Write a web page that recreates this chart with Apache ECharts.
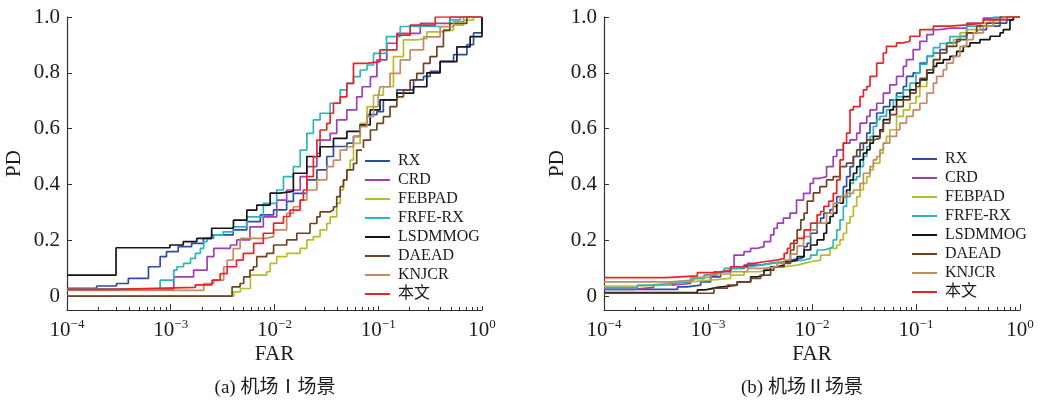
<!DOCTYPE html>
<html>
<head>
<meta charset="utf-8">
<script src="https://cdn.jsdelivr.net/npm/echarts@6/dist/echarts.min.js"></script>
<style>
  html, body { margin: 0; padding: 0; background: #fff; }
  #chart { width: 1042px; height: 407px; }
</style>
</head>
<body>
<div id="chart"></div>
<script>
// legend names and colours
var names = ['RX', 'CRD', 'FEBPAD', 'FRFE-RX', 'LSDMMOG', 'DAEAD', 'KNJCR', '本文'];
var colors = ['#2f4ea3', '#9e40b2', '#b6bd2b', '#2db6ba', '#151515', '#6e4424', '#c28b63', '#e8242a'];

// tick labels
var yTicks = [0, 0.2, 0.4, 0.6, 0.8, 1.0];
var minorSteps = [2, 3, 4, 5, 6, 7, 8, 9];
var decades = [-4, -3, -2, -1];

// (a) scene I : [FAR, PD]
var a_RX = [[1e-4,0.028],[1.93e-4,0.036],[3.0e-4,0.045],[3.9e-4,0.063],[6.1e-4,0.105],[7.9e-4,0.141],[9.1e-4,0.159],[1.18e-3,0.177],[1.59e-3,0.189],[2.06e-3,0.207],[2.48e-3,0.219],[4.0e-3,0.237],[5.4e-3,0.267],[7.3e-3,0.291],[9.8e-3,0.309],[1.31e-2,0.339],[1.52e-2,0.368],[2.05e-2,0.416],[2.56e-2,0.452],[3.19e-2,0.5],[3.7e-2,0.536],[4.98e-2,0.548],[5.77e-2,0.572],[6.7e-2,0.614],[7.8e-2,0.65],[9.7e-2,0.661],[0.112,0.703],[0.151,0.739],[0.219,0.775],[0.273,0.787],[0.317,0.805],[0.395,0.841],[0.532,0.865],[0.715,0.901],[0.829,0.943],[1,1]];
var a_CRD = [[1e-4,0.025],[1.07e-3,0.069],[1.66e-3,0.093],[2.24e-3,0.141],[2.6e-3,0.171],[3.76e-3,0.183],[4.33e-3,0.201],[5.8e-3,0.248],[7.8e-3,0.284],[1.05e-2,0.344],[1.31e-2,0.38],[1.77e-2,0.428],[2.05e-2,0.464],[2.56e-2,0.511],[2.75e-2,0.559],[3.44e-2,0.583],[3.98e-2,0.631],[4.98e-2,0.667],[6.2e-2,0.714],[7.0e-2,0.75],[8.4e-2,0.786],[9.7e-2,0.846],[0.121,0.906],[0.151,0.941],[0.254,0.977],[0.49,1],[1,1]];
var a_FEBPAD = [[1e-4,0],[4.05e-3,0.015],[4.69e-3,0.027],[5.86e-3,0.075],[8.4e-3,0.087],[9.1e-3,0.117],[1.05e-2,0.141],[1.31e-2,0.153],[1.77e-2,0.171],[2.05e-2,0.201],[2.37e-2,0.213],[2.75e-2,0.237],[3.19e-2,0.26],[3.44e-2,0.284],[3.98e-2,0.332],[4.3e-2,0.38],[4.62e-2,0.416],[4.98e-2,0.452],[5.36e-2,0.487],[5.77e-2,0.547],[6.7e-2,0.619],[7.8e-2,0.679],[9e-2,0.72],[0.112,0.75],[0.14,0.858],[0.175,0.918],[0.235,0.923],[0.294,0.947],[0.395,0.953],[0.531,0.971],[0.664,0.989],[0.828,1],[1,1]];
var a_FRFE = [[1e-4,0.025],[7.9e-4,0.057],[1.07e-3,0.093],[1.15e-3,0.105],[1.33e-3,0.117],[1.55e-3,0.135],[1.73e-3,0.153],[1.93e-3,0.171],[2.08e-3,0.195],[2.24e-3,0.207],[2.6e-3,0.219],[3.2e-3,0.23],[4.0e-3,0.248],[5.4e-3,0.284],[7.8e-3,0.332],[1.05e-2,0.38],[1.22e-2,0.428],[1.52e-2,0.464],[1.77e-2,0.523],[2.05e-2,0.583],[2.37e-2,0.631],[2.75e-2,0.655],[3.44e-2,0.691],[4.3e-2,0.739],[4.98e-2,0.762],[5.77e-2,0.786],[6.7e-2,0.81],[7.8e-2,0.828],[9e-2,0.87],[0.12,0.93],[0.163,0.966],[0.49,0.99],[0.62,1],[1,1]];
var a_LSD = [[1e-4,0.075],[2.97e-4,0.173],[9.8e-4,0.183],[1.32e-3,0.195],[1.78e-3,0.207],[2.48e-3,0.243],[4.02e-3,0.272],[5.41e-3,0.308],[6.75e-3,0.326],[9.08e-3,0.369],[1.13e-2,0.375],[1.52e-2,0.44],[2.05e-2,0.5],[2.75e-2,0.535],[3.7e-2,0.565],[4.98e-2,0.59],[6.68e-2,0.613],[8.36e-2,0.667],[0.104,0.703],[0.151,0.727],[0.219,0.75],[0.294,0.8],[0.395,0.84],[0.573,0.893],[0.769,0.93],[1,1]];
var a_DAEAD = [[1e-4,0],[3.9e-3,0.033],[4.66e-3,0.045],[5.05e-3,0.069],[5.8e-3,0.093],[6.26e-3,0.105],[6.75e-3,0.141],[8.4e-3,0.153],[9.8e-3,0.183],[1.31e-2,0.201],[1.64e-2,0.225],[2.2e-2,0.26],[2.56e-2,0.284],[2.75e-2,0.302],[3.44e-2,0.308],[3.7e-2,0.32],[3.98e-2,0.356],[4.3e-2,0.392],[4.62e-2,0.416],[4.98e-2,0.452],[5.77e-2,0.475],[6.2e-2,0.523],[7.2e-2,0.559],[8.4e-2,0.595],[9.7e-2,0.619],[0.112,0.643],[0.13,0.679],[0.151,0.714],[0.175,0.738],[0.203,0.774],[0.235,0.798],[0.273,0.834],[0.316,0.858],[0.367,0.894],[0.425,0.953],[0.49,0.977],[0.714,1],[1,1]];
var a_KNJCR = [[1e-4,0.02],[2.08e-3,0.045],[2.6e-3,0.057],[3.24e-3,0.105],[3.5e-3,0.129],[4.0e-3,0.17],[4.66e-3,0.207],[8.4e-3,0.213],[9.8e-3,0.237],[1.31e-2,0.296],[1.52e-2,0.32],[1.77e-2,0.344],[2.05e-2,0.38],[2.56e-2,0.416],[3.19e-2,0.464],[3.7e-2,0.487],[4.3e-2,0.523],[4.98e-2,0.535],[5.77e-2,0.571],[6.7e-2,0.607],[7.8e-2,0.643],[9e-2,0.679],[0.1,0.714],[0.104,0.75],[0.13,0.798],[0.163,0.846],[0.203,0.882],[0.273,0.929],[0.395,0.965],[0.531,0.983],[0.664,1],[1,1]];
var a_OURS = [[1e-4,0.024],[2.9e-4,0.031],[1.73e-3,0.04],[2.5e-3,0.057],[3.0e-3,0.08],[3.5e-3,0.105],[4.3e-3,0.129],[5.0e-3,0.153],[6.3e-3,0.189],[7.8e-3,0.225],[9.8e-3,0.261],[1.22e-2,0.285],[1.41e-2,0.308],[1.77e-2,0.344],[1.9e-2,0.38],[2.05e-2,0.428],[2.37e-2,0.499],[2.56e-2,0.559],[2.75e-2,0.595],[3.19e-2,0.619],[3.44e-2,0.655],[3.7e-2,0.691],[4.3e-2,0.714],[4.98e-2,0.762],[5.77e-2,0.834],[7.76e-2,0.84],[0.104,0.882],[0.151,0.935],[0.203,0.971],[0.354,1],[1,1]];

// (b) scene II : [FAR, PD]
var b_RX = [[1e-4,0.024],[5.1e-4,0.033],[6.3e-4,0.039],[8.5e-4,0.051],[1.06e-3,0.069],[1.32e-3,0.087],[1.65e-3,0.099],[2.22e-3,0.111],[3.2e-3,0.117],[4.0e-3,0.123],[5.4e-3,0.129],[6.2e-3,0.135],[7.8e-3,0.141],[8.4e-3,0.177],[9.0e-3,0.189],[9.7e-3,0.225],[1.12e-2,0.261],[1.21e-2,0.279],[1.3e-2,0.297],[1.49e-2,0.31],[1.6e-2,0.321],[1.73e-2,0.356],[2.0e-2,0.392],[2.15e-2,0.428],[2.32e-2,0.464],[2.5e-2,0.5],[2.9e-2,0.548],[3.36e-2,0.584],[3.61e-2,0.62],[4.19e-2,0.656],[4.85e-2,0.679],[5.6e-2,0.703],[6.5e-2,0.727],[7.55e-2,0.751],[8.1e-2,0.787],[9.4e-2,0.8],[0.109,0.835],[0.127,0.859],[0.147,0.871],[0.17,0.883],[0.197,0.907],[0.229,0.913],[0.265,0.931],[0.307,0.943],[0.383,0.955],[0.477,0.967],[0.643,0.978],[0.745,0.99],[0.863,1],[1,1]];
var b_CRD = [[1e-4,0.024],[1.94e-4,0.031],[3.0e-4,0.039],[4.4e-4,0.045],[6.8e-4,0.063],[9.2e-4,0.075],[1.14e-3,0.087],[1.32e-3,0.093],[1.65e-3,0.105],[1.78e-3,0.147],[2.22e-3,0.159],[2.57e-3,0.171],[2.98e-3,0.177],[3.45e-3,0.195],[4.0e-3,0.219],[4.3e-3,0.243],[4.64e-3,0.261],[5.3e-3,0.279],[6.14e-3,0.297],[7.1e-3,0.344],[8.3e-3,0.368],[9.6e-3,0.404],[1.03e-2,0.422],[1.19e-2,0.428],[1.38e-2,0.464],[1.6e-2,0.5],[1.73e-2,0.524],[2.0e-2,0.548],[2.32e-2,0.56],[2.69e-2,0.584],[2.9e-2,0.62],[3.36e-2,0.644],[3.61e-2,0.667],[4.19e-2,0.691],[4.85e-2,0.727],[5.6e-2,0.757],[6.5e-2,0.787],[7.55e-2,0.823],[8.1e-2,0.847],[9.4e-2,0.883],[0.109,0.913],[0.127,0.937],[0.147,0.955],[0.17,0.96],[0.212,0.96],[0.307,0.978],[0.444,0.996],[0.5,1],[1,1]];
var b_FEBPAD = [[1e-4,0.036],[2.1e-4,0.039],[4.4e-4,0.051],[6.8e-4,0.057],[1.06e-3,0.063],[1.65e-3,0.075],[2.22e-3,0.087],[3.0e-3,0.093],[4.0e-3,0.105],[5.4e-3,0.111],[7.2e-3,0.117],[8.4e-3,0.123],[9.7e-3,0.129],[1.21e-2,0.147],[1.49e-2,0.171],[1.73e-2,0.183],[1.86e-2,0.201],[2.0e-2,0.225],[2.15e-2,0.261],[2.32e-2,0.285],[2.5e-2,0.321],[2.69e-2,0.356],[2.9e-2,0.38],[3.12e-2,0.404],[3.36e-2,0.428],[3.61e-2,0.452],[3.89e-2,0.476],[4.5e-2,0.512],[4.85e-2,0.548],[5.2e-2,0.572],[5.6e-2,0.596],[6.5e-2,0.644],[7.55e-2,0.667],[8.75e-2,0.691],[0.1,0.715],[0.109,0.751],[0.127,0.811],[0.147,0.847],[0.17,0.871],[0.197,0.895],[0.229,0.919],[0.265,0.943],[0.307,0.955],[0.412,0.978],[0.515,0.99],[0.643,1],[1,1]];
var b_FRFE = [[1e-4,0.03],[2.1e-4,0.039],[2.8e-4,0.045],[4.4e-4,0.051],[6.8e-4,0.063],[9.2e-4,0.075],[1.23e-3,0.087],[1.43e-3,0.099],[1.91e-3,0.105],[2.57e-3,0.111],[3.2e-3,0.117],[4.0e-3,0.123],[5.4e-3,0.129],[8.4e-3,0.135],[9.7e-3,0.147],[1.12e-2,0.165],[1.3e-2,0.171],[1.49e-2,0.177],[1.6e-2,0.201],[1.73e-2,0.237],[1.86e-2,0.273],[2.0e-2,0.321],[2.15e-2,0.356],[2.32e-2,0.404],[2.5e-2,0.416],[2.69e-2,0.428],[2.9e-2,0.464],[3.12e-2,0.5],[3.36e-2,0.536],[3.61e-2,0.572],[3.89e-2,0.608],[4.19e-2,0.632],[4.5e-2,0.644],[5.2e-2,0.667],[6.05e-2,0.703],[6.5e-2,0.715],[7.55e-2,0.739],[8.75e-2,0.763],[0.1,0.8],[0.109,0.83],[0.127,0.86],[0.147,0.89],[0.17,0.905],[0.212,0.93],[0.307,0.967],[0.555,1],[1,1]];
var b_LSD = [[1e-4,0.012],[7.9e-4,0.022],[9.2e-4,0.024],[1.0e-3,0.031],[1.23e-3,0.036],[1.65e-3,0.039],[1.91e-3,0.051],[2.57e-3,0.069],[3.0e-3,0.075],[3.45e-3,0.093],[4.0e-3,0.105],[4.64e-3,0.111],[5.4e-3,0.123],[6.2e-3,0.129],[7.2e-3,0.141],[8.4e-3,0.165],[9.7e-3,0.183],[1.12e-2,0.201],[1.3e-2,0.225],[1.38e-2,0.261],[1.49e-2,0.285],[1.6e-2,0.297],[1.73e-2,0.333],[2.0e-2,0.356],[2.15e-2,0.38],[2.32e-2,0.416],[2.5e-2,0.44],[2.69e-2,0.464],[2.9e-2,0.488],[3.12e-2,0.512],[3.36e-2,0.524],[3.61e-2,0.548],[3.89e-2,0.572],[4.5e-2,0.596],[4.85e-2,0.632],[5.6e-2,0.667],[6.05e-2,0.679],[6.5e-2,0.703],[7.55e-2,0.715],[8.75e-2,0.739],[0.1,0.763],[0.109,0.775],[0.127,0.8],[0.147,0.823],[0.158,0.835],[0.183,0.847],[0.212,0.859],[0.246,0.877],[0.285,0.895],[0.33,0.907],[0.412,0.919],[0.515,0.931],[0.643,0.943],[0.691,0.955],[0.801,0.99],[0.863,1],[1,1]];
var b_DAEAD = [[1e-4,0.01],[9.2e-4,0.01],[1.14e-3,0.028],[1.54e-3,0.039],[1.91e-3,0.051],[2.57e-3,0.063],[3.2e-3,0.075],[4.0e-3,0.093],[4.3e-3,0.105],[5.4e-3,0.117],[6.2e-3,0.165],[6.7e-3,0.2],[7.2e-3,0.237],[7.8e-3,0.273],[8.4e-3,0.297],[9.0e-3,0.34],[1.03e-2,0.37],[1.19e-2,0.392],[1.38e-2,0.416],[1.6e-2,0.428],[1.86e-2,0.464],[2.15e-2,0.476],[2.5e-2,0.5],[2.69e-2,0.524],[3.12e-2,0.548],[3.36e-2,0.56],[4.0e-2,0.565],[4.5e-2,0.59],[4.85e-2,0.62],[5.6e-2,0.65],[6.5e-2,0.679],[7.55e-2,0.703],[8.75e-2,0.727],[0.1,0.751],[0.109,0.78],[0.127,0.811],[0.147,0.847],[0.17,0.871],[0.197,0.895],[0.246,0.919],[0.307,0.943],[0.383,0.967],[0.477,0.978],[0.643,1],[1,1]];
var b_KNJCR = [[1e-4,0.051],[4.4e-4,0.057],[7.3e-4,0.067],[1.06e-3,0.079],[1.65e-3,0.087],[2.4e-3,0.099],[3.45e-3,0.105],[4.6e-3,0.117],[5.4e-3,0.129],[6.2e-3,0.15],[7.2e-3,0.18],[8.3e-3,0.213],[9.6e-3,0.237],[1.11e-2,0.261],[1.38e-2,0.297],[1.6e-2,0.333],[1.86e-2,0.356],[2.15e-2,0.368],[2.5e-2,0.38],[2.9e-2,0.404],[3.12e-2,0.44],[3.61e-2,0.464],[3.89e-2,0.488],[4.19e-2,0.5],[4.5e-2,0.524],[4.85e-2,0.548],[5.6e-2,0.572],[6.5e-2,0.596],[7.0e-2,0.62],[8.1e-2,0.644],[9.4e-2,0.667],[0.109,0.691],[0.127,0.727],[0.147,0.763],[0.158,0.787],[0.183,0.811],[0.197,0.835],[0.229,0.859],[0.265,0.895],[0.307,0.919],[0.355,0.943],[0.444,0.967],[0.555,0.99],[0.691,1],[1,1]];
var b_OURS = [[1e-4,0.066],[3.9e-4,0.072],[7.9e-4,0.084],[1.14e-3,0.091],[1.65e-3,0.105],[2.4e-3,0.117],[2.8e-3,0.123],[3.45e-3,0.129],[4.6e-3,0.135],[5.4e-3,0.153],[5.8e-3,0.171],[6.2e-3,0.189],[7.2e-3,0.207],[8.4e-3,0.237],[9.7e-3,0.261],[1.12e-2,0.291],[1.21e-2,0.303],[1.3e-2,0.321],[1.45e-2,0.34],[1.6e-2,0.368],[1.73e-2,0.416],[1.86e-2,0.488],[2.0e-2,0.548],[2.15e-2,0.584],[2.32e-2,0.667],[2.5e-2,0.679],[2.9e-2,0.715],[3.12e-2,0.739],[3.36e-2,0.751],[3.61e-2,0.787],[4.19e-2,0.835],[4.85e-2,0.871],[5.2e-2,0.895],[6.5e-2,0.907],[7.5e-2,0.913],[8.75e-2,0.931],[0.109,0.955],[0.147,0.967],[0.212,0.972],[0.307,0.978],[0.444,0.99],[0.745,1],[1,1]];

var sceneA = [a_RX, a_CRD, a_FEBPAD, a_FRFE, a_LSD, a_DAEAD, a_KNJCR, a_OURS];
var sceneB = [b_RX, b_CRD, b_FEBPAD, b_FRFE, b_LSD, b_DAEAD, b_KNJCR, b_OURS];

var FONT = '"Liberation Serif", "Noto Sans CJK SC", serif';
var TXT = '#1a1a1a';
var AX = '#333333';

var minorTicks = [];
decades.forEach(function (d) {
    minorSteps.forEach(function (m) { minorTicks.push(d + Math.log10(m)); });
});

function expLabel(v) {
    var e = Math.round(Math.log10(v));
    return '{b|10}{s|' + (e < 0 ? '\u2212' + (-e) : e) + '}';
}

function majorAxis(grid) {
    return {
        gridIndex: grid, type: 'log', logBase: 10, min: 1e-4, max: 1, interval: 1,
        position: 'bottom',
        name: 'FAR', nameLocation: 'middle', nameGap: 34, nameMoveOverlap: false,
        nameTextStyle: { fontFamily: FONT, fontSize: 21, color: TXT },
        axisLine: { onZero: false, lineStyle: { color: AX, width: 1.2 } },
        axisTick: { inside: true, length: 6, lineStyle: { color: AX } },
        axisLabel: {
            margin: 8, formatter: expLabel,
            rich: {
                b: { fontFamily: FONT, fontSize: 21, color: TXT },
                s: { fontFamily: FONT, fontSize: 13, color: TXT, padding: [0, 0, 12, 0] }
            }
        },
        splitLine: { show: false }
    };
}

function minorAxis(grid) {
    return {
        gridIndex: grid, type: 'value', min: -4, max: 0, position: 'bottom',
        axisLine: { show: false, onZero: false },
        axisTick: { show: true, inside: true, length: 3, customValues: minorTicks, lineStyle: { color: AX } },
        axisLabel: { show: false },
        splitLine: { show: false }
    };
}

function yAxisFor(grid, gap) {
    return {
        gridIndex: grid, type: 'value', min: -0.05, max: 1,
        name: 'PD', nameLocation: 'middle', nameGap: gap, nameRotate: 90, nameMoveOverlap: false,
        nameTextStyle: { fontFamily: FONT, fontSize: 21, color: TXT },
        axisLine: { show: true, onZero: false, lineStyle: { color: AX, width: 1.2 } },
        axisTick: { show: true, inside: true, length: 5, customValues: yTicks, lineStyle: { color: AX } },
        axisLabel: {
            margin: 7, customValues: yTicks, fontFamily: FONT, fontSize: 21, color: TXT,
            formatter: function (v) { return v === 0 ? '0' : v.toFixed(1); }
        },
        splitLine: { show: false }
    };
}

function legendAt(left, top) {
    return {
        data: names, orient: 'vertical', left: left, top: top,
        icon: 'rect', itemWidth: 25, itemHeight: 2, itemGap: 3,
        padding: [5, 6, 4, 3], backgroundColor: '#fff',
        textStyle: { fontFamily: FONT, fontSize: 16, color: TXT, padding: [0, 0, 0, 3] }
    };
}

var series = [];
sceneA.forEach(function (d, i) {
    series.push({ name: names[i], type: 'line', xAxisIndex: 0, yAxisIndex: 0, data: d,
        step: 'end', symbol: 'none', color: colors[i], lineStyle: { width: 1.7, color: colors[i] } });
});
sceneB.forEach(function (d, i) {
    series.push({ name: names[i], type: 'line', xAxisIndex: 2, yAxisIndex: 1, data: d,
        step: 'end', symbol: 'none', color: colors[i], lineStyle: { width: 1.7, color: colors[i] } });
});

var chart = echarts.init(document.getElementById('chart'));
chart.setOption({
    animation: false,
    backgroundColor: '#fff',
    grid: [
        { left: 67, top: 17, width: 415, height: 293 },
        { left: 604, top: 17, width: 416, height: 293 }
    ],
    xAxis: [majorAxis(0), minorAxis(0), majorAxis(1), minorAxis(1)],
    yAxis: [yAxisFor(0, 42), yAxisFor(1, 36)],
    legend: [legendAt(362, 148), legendAt(909, 146)],
    graphic: [
        { type: 'text', style: { text: '(a) 机场Ⅰ场景', x: 275, y: 388, align: 'center', verticalAlign: 'middle',
            fontFamily: FONT, fontSize: 19, fill: TXT } },
        { type: 'text', style: { text: '(b) 机场Ⅱ场景', x: 802, y: 388, align: 'center', verticalAlign: 'middle',
            fontFamily: FONT, fontSize: 19, fill: TXT } }
    ],
    series: series
});
</script>
</body>
</html>
